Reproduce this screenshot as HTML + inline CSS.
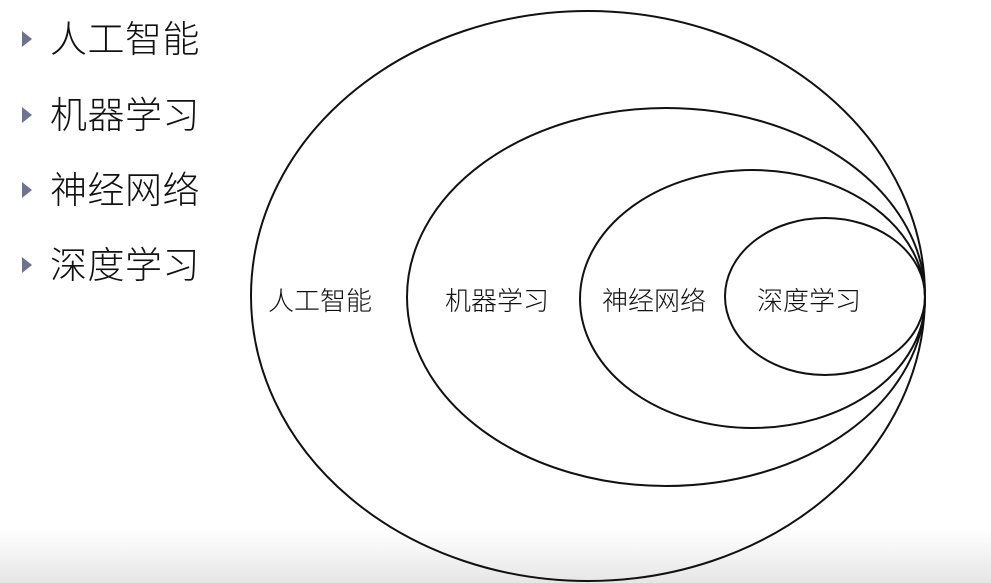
<!DOCTYPE html>
<html><head><meta charset="utf-8"><style>
html,body{margin:0;padding:0;}
body{width:991px;height:583px;position:relative;overflow:hidden;background:#fff;font-family:"Liberation Sans","Noto Sans CJK SC",sans-serif;}
.grad{position:absolute;left:0;top:530px;width:991px;height:53px;background:linear-gradient(#fff,#e6e6e6);}
.b{position:absolute;left:50px;font-size:37px;line-height:37px;color:#111;letter-spacing:0.5px;font-weight:300;}
.t{position:absolute;left:22px;width:0;height:0;border-top:8px solid transparent;border-bottom:8px solid transparent;border-left:10px solid #6f7391;}
svg{position:absolute;left:0;top:0;}
</style></head><body>
<div class="grad"></div>
<div class="t" style="top:31px"></div><div class="b" style="top:21px">人工智能</div>
<div class="t" style="top:107px"></div><div class="b" style="top:97px">机器学习</div>
<div class="t" style="top:182px"></div><div class="b" style="top:172px">神经网络</div>
<div class="t" style="top:257px"></div><div class="b" style="top:247px">深度学习</div>
<svg width="991" height="583" viewBox="0 0 991 583">
<g fill="none" stroke="#111" stroke-width="2">
<ellipse cx="588" cy="296" rx="337" ry="285"/>
<ellipse cx="666" cy="297" rx="259" ry="189"/>
<ellipse cx="752.5" cy="299" rx="172.5" ry="129"/>
<ellipse cx="825" cy="296.5" rx="100" ry="78.5"/>
</g>
<g font-family="Liberation Sans, Noto Sans CJK SC, sans-serif" font-size="26" font-weight="300" fill="#111">
<text x="268" y="310">人工智能</text>
<text x="445" y="310">机器学习</text>
<text x="602" y="310">神经网络</text>
<text x="757" y="310">深度学习</text>
</g>
</svg>
</body></html>
